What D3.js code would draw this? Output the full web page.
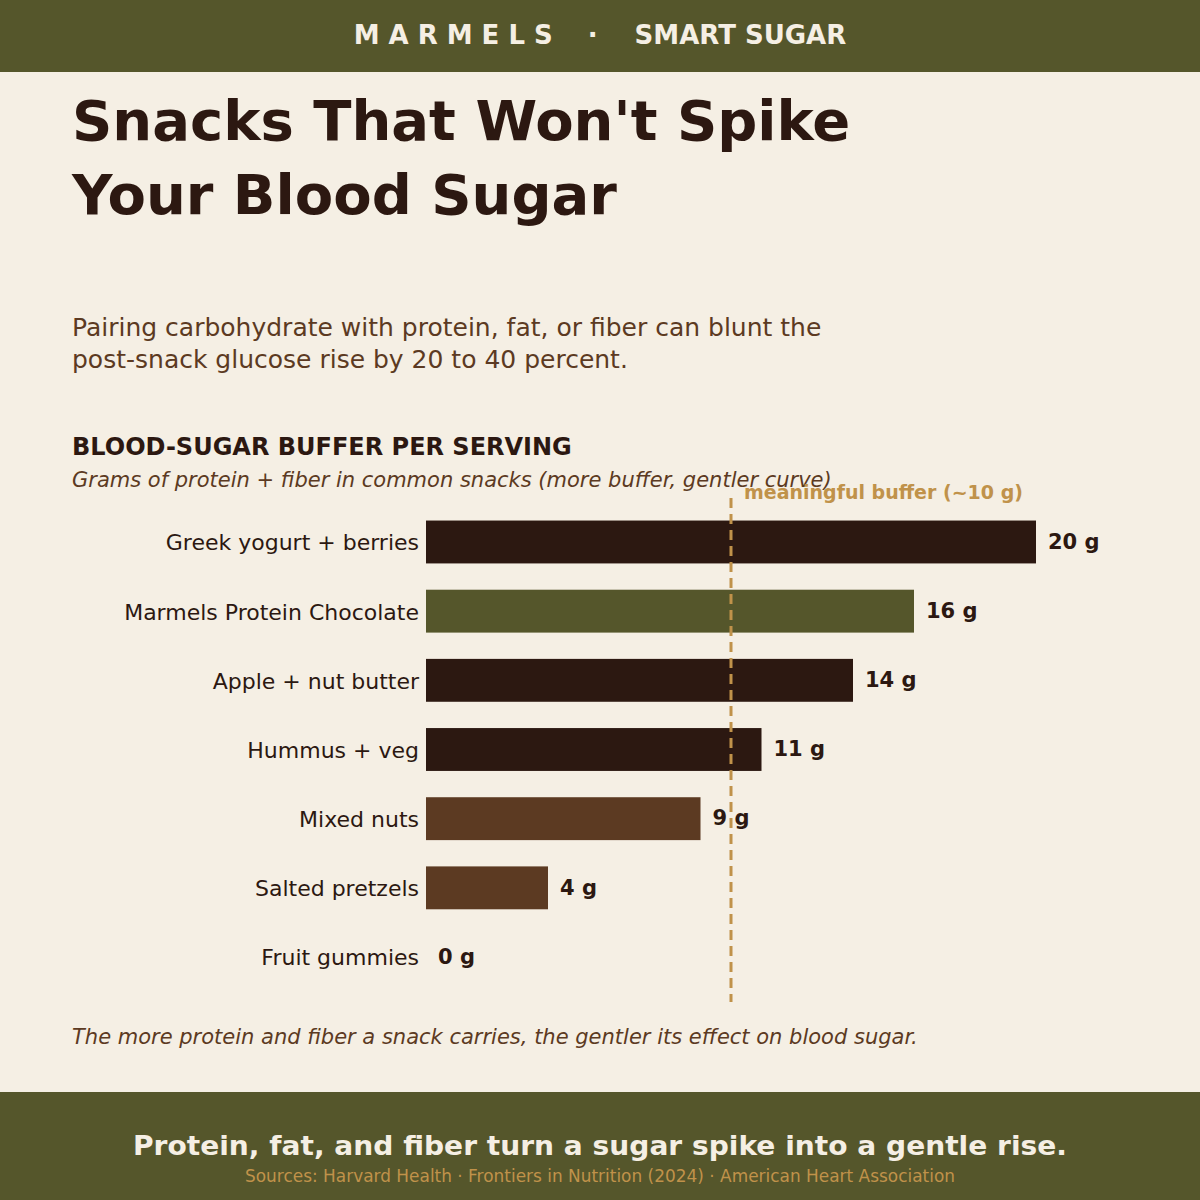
<html>
<head>
<script src="https://d3js.org/d3.v7.min.js"></script>
<style>
  body { margin: 0; background: #f5efe4; }
  text { font-family: "DejaVu Sans", sans-serif; }
</style>
</head>
<body>
<svg id="chart" width="1200" height="1200"></svg>
<script>
const snacks = ["Greek yogurt + berries", "Marmels Protein Chocolate", "Apple + nut butter",
  "Hummus + veg", "Mixed nuts", "Salted pretzels", "Fruit gummies"];
const grams = [20, 16, 14, 11, 9, 4, 0];
const barColors = ["#2c1811", "#55562b", "#2c1811", "#2c1811", "#5c3a22", "#5c3a22", "#5c3a22"];
const threshold = 10;

const svg = d3.select("#chart");
const dark = "#2c1811", olive = "#55562b", gold = "#c0924a", brown = "#5c3a22", cream = "#f5efe4";

svg.append("rect").attr("width", 1200).attr("height", 1200).attr("fill", cream);

// header band
svg.append("rect").attr("width", 1200).attr("height", 72).attr("fill", olive);
const head = svg.append("text").attr("x", 600).attr("y", 44).attr("text-anchor", "middle")
  .attr("fill", "#f5efe4").attr("font-size", 26).attr("font-weight", "bold");
head.append("tspan").attr("letter-spacing", "9").text("MARMELS");
head.append("tspan").attr("dx", 26).text("·");
head.append("tspan").attr("dx", 37).text("SMART SUGAR");

// titles
svg.append("text").attr("x", 72).attr("y", 140).attr("fill", dark)
  .attr("font-size", 56).attr("font-weight", "bold").text("Snacks That Won't Spike");
svg.append("text").attr("x", 72).attr("y", 214).attr("fill", dark)
  .attr("font-size", 56).attr("font-weight", "bold").text("Your Blood Sugar");

svg.append("text").attr("x", 72).attr("y", 336).attr("fill", brown).attr("font-size", 25)
  .text("Pairing carbohydrate with protein, fat, or fiber can blunt the");
svg.append("text").attr("x", 72).attr("y", 368).attr("fill", brown).attr("font-size", 25)
  .text("post-snack glucose rise by 20 to 40 percent.");

svg.append("text").attr("x", 72).attr("y", 455).attr("fill", dark).attr("font-size", 24)
  .attr("font-weight", "bold").text("BLOOD-SUGAR BUFFER PER SERVING");
svg.append("text").attr("x", 72).attr("y", 487).attr("fill", brown).attr("font-size", 21)
  .attr("font-style", "italic").text("Grams of protein + fiber in common snacks (more buffer, gentler curve)");

// chart
const x = d3.scaleLinear().domain([0, 20]).range([426, 1036]);
const y = d3.scaleBand().domain(snacks).range([507.4, 991.6]).paddingInner(0.38).paddingOuter(0.19);

const rows = snacks.map((s, i) => ({ name: s, v: grams[i], c: barColors[i] }));

svg.selectAll("rect.bar").data(rows).join("rect").attr("class", "bar")
  .attr("x", x(0)).attr("y", d => y(d.name))
  .attr("width", d => x(d.v) - x(0)).attr("height", y.bandwidth())
  .attr("fill", d => d.c);

svg.selectAll("text.lab").data(rows).join("text").attr("class", "lab")
  .attr("x", 419).attr("y", d => y(d.name) + y.bandwidth() / 2).attr("dy", "0.38em")
  .attr("text-anchor", "end").attr("fill", dark).attr("font-size", 22).text(d => d.name);

// threshold line
svg.append("line").attr("x1", x(threshold)).attr("x2", x(threshold))
  .attr("y1", 498).attr("y2", 1002).attr("stroke", gold).attr("stroke-width", 3)
  .attr("stroke-dasharray", "10,6");
svg.append("text").attr("x", x(threshold) + 13).attr("y", 499).attr("fill", gold)
  .attr("font-size", 19).attr("font-weight", "bold").text("meaningful buffer (~10 g)");

svg.selectAll("text.val").data(rows).join("text").attr("class", "val")
  .attr("x", d => x(d.v) + 12).attr("y", d => y(d.name) + y.bandwidth() / 2).attr("dy", "0.32em")
  .attr("fill", dark).attr("font-size", 21).attr("font-weight", "bold").text(d => d.v + " g");

svg.append("text").attr("x", 72).attr("y", 1044).attr("fill", brown).attr("font-size", 21)
  .attr("font-style", "italic").text("The more protein and fiber a snack carries, the gentler its effect on blood sugar.");

// footer band
svg.append("rect").attr("y", 1092).attr("width", 1200).attr("height", 108).attr("fill", olive);
svg.append("text").attr("x", 600).attr("y", 1155).attr("text-anchor", "middle").attr("fill", "#f5efe4")
  .attr("font-size", 27).attr("font-weight", "bold").attr("textLength", 934).attr("lengthAdjust", "spacingAndGlyphs")
  .text("Protein, fat, and fiber turn a sugar spike into a gentle rise.");
svg.append("text").attr("x", 600).attr("y", 1182).attr("text-anchor", "middle").attr("fill", gold)
  .attr("font-size", 17).attr("textLength", 710).attr("lengthAdjust", "spacingAndGlyphs")
  .text("Sources: Harvard Health · Frontiers in Nutrition (2024) · American Heart Association");
</script>
</body>
</html>
